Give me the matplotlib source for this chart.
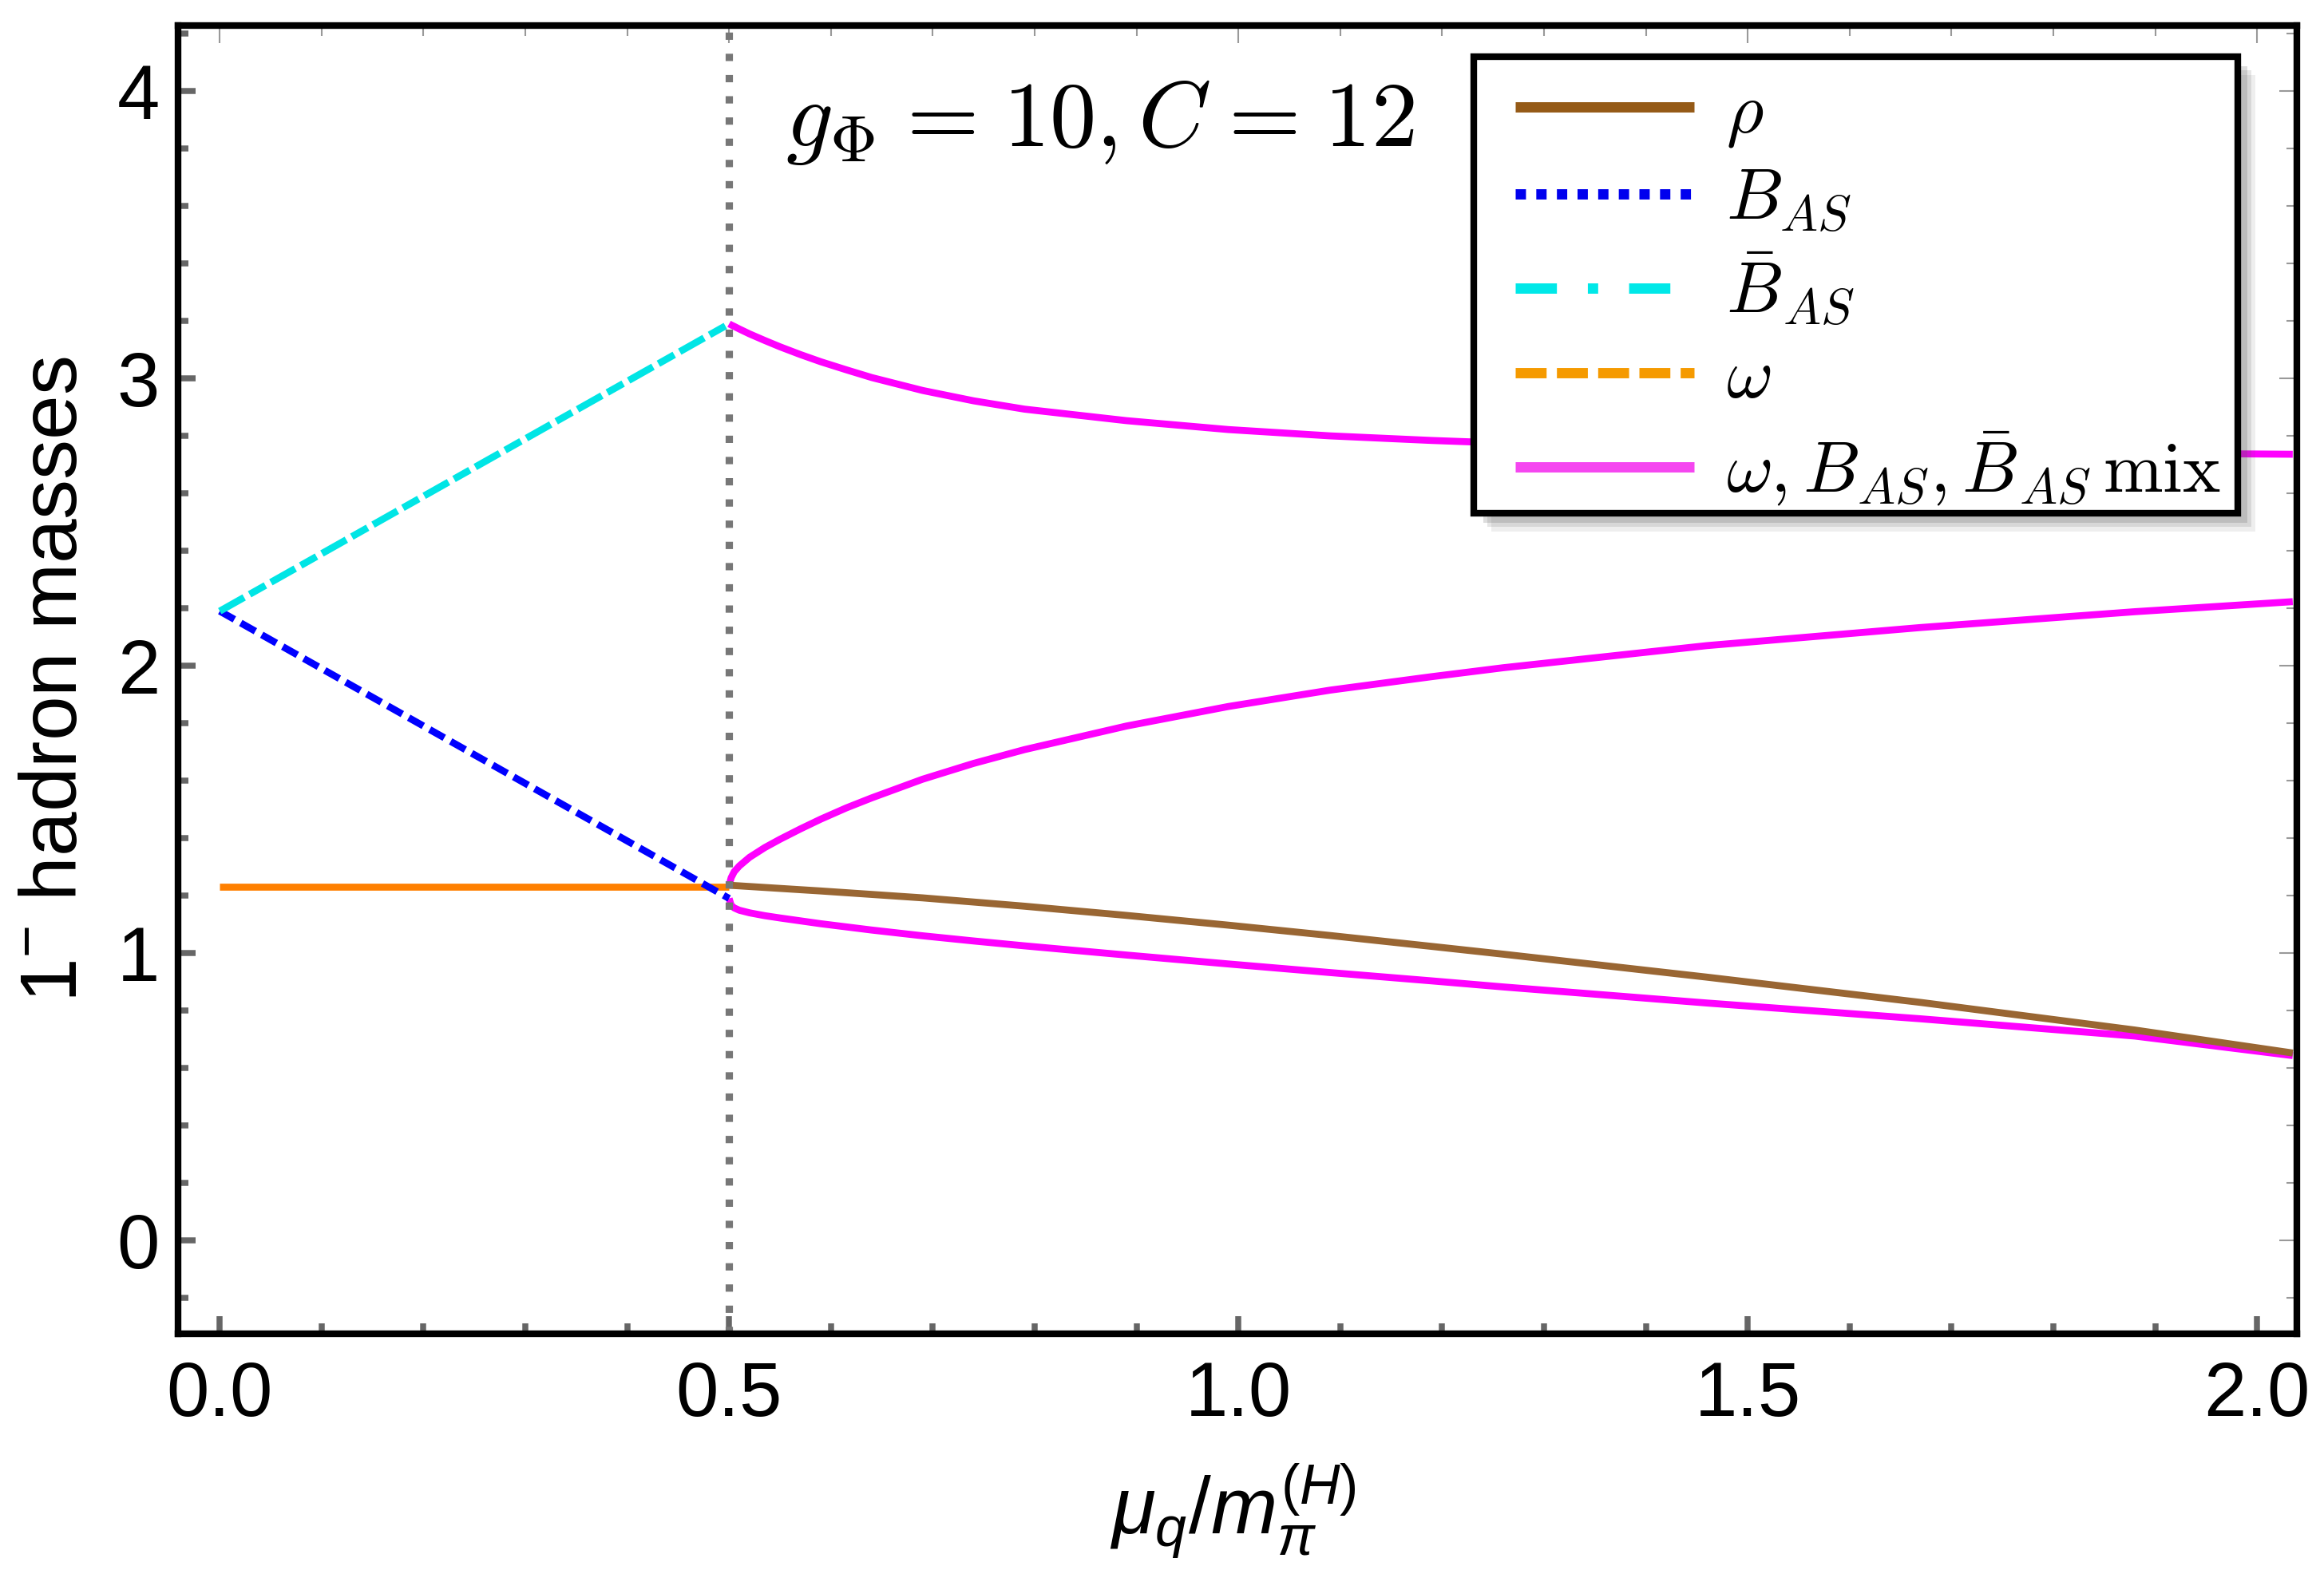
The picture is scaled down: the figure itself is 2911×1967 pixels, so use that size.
import matplotlib
matplotlib.use("Agg")
import matplotlib.pyplot as plt
from matplotlib.lines import Line2D
from matplotlib.patches import Rectangle
from matplotlib.ticker import MultipleLocator

plt.rcParams["font.family"] = ["Liberation Sans", "DejaVu Sans"]
plt.rcParams["mathtext.fontset"] = "cm"
plt.rcParams["mathtext.rm"] = "Liberation Sans"
plt.rcParams["mathtext.it"] = "Liberation Sans:italic"
plt.rcParams["mathtext.bf"] = "Liberation Sans:bold"

# ── Data ──────────────────────────────────────────────────────────────────────
MU_C = 0.5

# below the critical chemical potential
mu_low    = [0.0, 0.5]
b_as_low  = [2.19, 1.19]
bbar_low  = [2.19, 3.19]
omega_low = [1.232, 1.232]

# above: rho
mu_rho = [0.5, 0.59, 0.69, 0.79, 0.89, 0.99, 1.09, 1.19, 1.26, 1.46, 1.67, 1.88, 2.035]
rho    = [1.236, 1.216, 1.192, 1.163, 1.131, 1.097, 1.061, 1.023, 0.996, 0.916, 0.828, 0.732, 0.652]

# above: omega / B_AS / Bbar_AS mixed states
mu_mix = [0.5, 0.502, 0.505, 0.51, 0.52, 0.535, 0.55, 0.57, 0.59, 0.615, 0.64, 0.69,
          0.74, 0.79, 0.89, 0.99, 1.09, 1.19, 1.26, 1.46, 1.67, 1.88, 2.035]
mix_top = [3.19, 3.186, 3.181, 3.172, 3.155, 3.132, 3.11, 3.083, 3.058, 3.03, 3.003, 2.958,
           2.922, 2.893, 2.853, 2.822, 2.80, 2.784, 2.775, 2.758, 2.747, 2.740, 2.736]
mix_mid = [1.235, 1.262, 1.283, 1.303, 1.333, 1.367, 1.396, 1.432, 1.466, 1.505, 1.54, 1.605,
           1.66, 1.708, 1.79, 1.858, 1.915, 1.962, 1.993, 2.07, 2.133, 2.188, 2.223]
mix_bot = [1.19, 1.166, 1.157, 1.149, 1.14, 1.13, 1.122, 1.112, 1.102, 1.091, 1.08, 1.06,
           1.042, 1.025, 0.993, 0.962, 0.932, 0.903, 0.882, 0.826, 0.771, 0.711, 0.643]

LABELS = [r"$\rho$", r"$B_{AS}$", r"$\bar{B}_{AS}$", r"$\omega$",
          r"$\omega, B_{AS}, \bar{B}_{AS}\,\mathrm{mix}$"]

# ── Plot ──────────────────────────────────────────────────────────────────────
fig = plt.figure(figsize=(2911 / 300, 1967 / 300), dpi=300)
ax = fig.add_axes([0.0766, 0.1505, 0.9117, 0.8332])

LW = 2.1
ax.plot(mu_mix, mix_top, color="#FF00FF", lw=LW, solid_capstyle="butt")
ax.plot(mu_mix, mix_mid, color="#FF00FF", lw=LW, solid_capstyle="butt")
ax.plot(mu_mix, mix_bot, color="#FF00FF", lw=LW, solid_capstyle="butt")
ax.plot(mu_rho, rho, color="#996633", lw=LW, solid_capstyle="butt")
ax.plot(mu_low, omega_low, color="#FF8000", lw=LW, solid_capstyle="butt")
ax.plot(mu_low, b_as_low, color="#0000FF", lw=LW, linestyle=(0, (2.4, 1.05)))
ax.plot(mu_low, bbar_low, color="#00E5E5", lw=LW, linestyle=(0, (4.0, 0.9, 2.6, 0.9)))
ax.axvline(MU_C, color="#777777", lw=2.2, linestyle=(0, (1, 1.9)))

ax.set_xlim(-0.041, 2.039)
ax.set_ylim(-0.325, 4.228)

ax.xaxis.set_major_locator(MultipleLocator(0.5))
ax.xaxis.set_minor_locator(MultipleLocator(0.1))
ax.yaxis.set_major_locator(MultipleLocator(1))
ax.yaxis.set_minor_locator(MultipleLocator(0.2))
ax.tick_params(which="both", direction="in", color="#666666", width=1.8,
               labelsize=23, top=False, right=False)
ax.tick_params(which="major", length=5.3)
ax.tick_params(which="minor", length=3.1)
ax.tick_params(axis="x", pad=8)
ax.tick_params(axis="y", pad=5.5)

for side in ax.spines.values():
    side.set_linewidth(2.0)

# thin ticks on the top and right frame
top = ax.secondary_xaxis("top")
top.xaxis.set_major_locator(MultipleLocator(0.5))
top.xaxis.set_minor_locator(MultipleLocator(0.1))
right = ax.secondary_yaxis("right")
right.yaxis.set_major_locator(MultipleLocator(1))
right.yaxis.set_minor_locator(MultipleLocator(0.2))
for sec in (top, right):
    sec.tick_params(which="both", direction="in", color="#999999", width=0.5,
                    labeltop=False, labelright=False)
    sec.tick_params(which="major", length=5.3)
    sec.tick_params(which="minor", length=3.1)
    for side in sec.spines.values():
        side.set_visible(False)

ax.set_xlabel(r"$\mu_q/m_\pi^{(H)}$", fontsize=24, math_fontfamily="custom")
ax.set_ylabel(r"$1^{-}$ hadron masses", fontsize=24, math_fontfamily="custom")
ax.xaxis.set_label_coords(0.498, -0.098)
ax.yaxis.set_label_coords(-0.040, 0.5)

ax.text(0.2867, 0.908,
        r"$g_\Phi\hspace{0.09}=\hspace{0.09}10, C\hspace{0.09}=\hspace{0.09}12$",
        transform=ax.transAxes, fontsize=28, va="baseline", ha="left")

# legend box with a soft drop shadow, drawn by hand
BOX = (0.6115, 0.627, 0.3605, 0.349)   # x0, y0, w, h in axes fraction
for k, a in [(0.0085, 0.10), (0.0065, 0.15), (0.0045, 0.2)]:
    ax.add_patch(Rectangle((BOX[0] + k, BOX[1] - k * 1.6), BOX[2], BOX[3],
                           transform=ax.transAxes, facecolor="0.35", edgecolor="none",
                           alpha=a, zorder=4))
ax.add_patch(Rectangle(BOX[:2], BOX[2], BOX[3], transform=ax.transAxes,
                       facecolor="white", edgecolor="black", lw=2.0, zorder=4.5))

handles = [
    Line2D([], [], color="#955A17", lw=3.1, solid_capstyle="butt"),
    Line2D([], [], color="#0000EE", lw=3.1, linestyle=(0, (1, 1))),
    Line2D([], [], color="#00E8E8", lw=3.1, linestyle=(0, (4, 3, 1, 3))),
    Line2D([], [], color="#F59A00", lw=3.1, linestyle=(0, (3, 1))),
    Line2D([], [], color="#F546F0", lw=3.1, solid_capstyle="butt"),
]
leg = ax.legend(handles, LABELS, loc="upper left", bbox_to_anchor=(0.631, 0.959),
                borderaxespad=0, borderpad=0, fontsize=21.5, handlelength=2.5,
                handletextpad=0.45, labelspacing=0.24, frameon=False)
leg.set_zorder(5)

fig.savefig("out.png", dpi=300)
